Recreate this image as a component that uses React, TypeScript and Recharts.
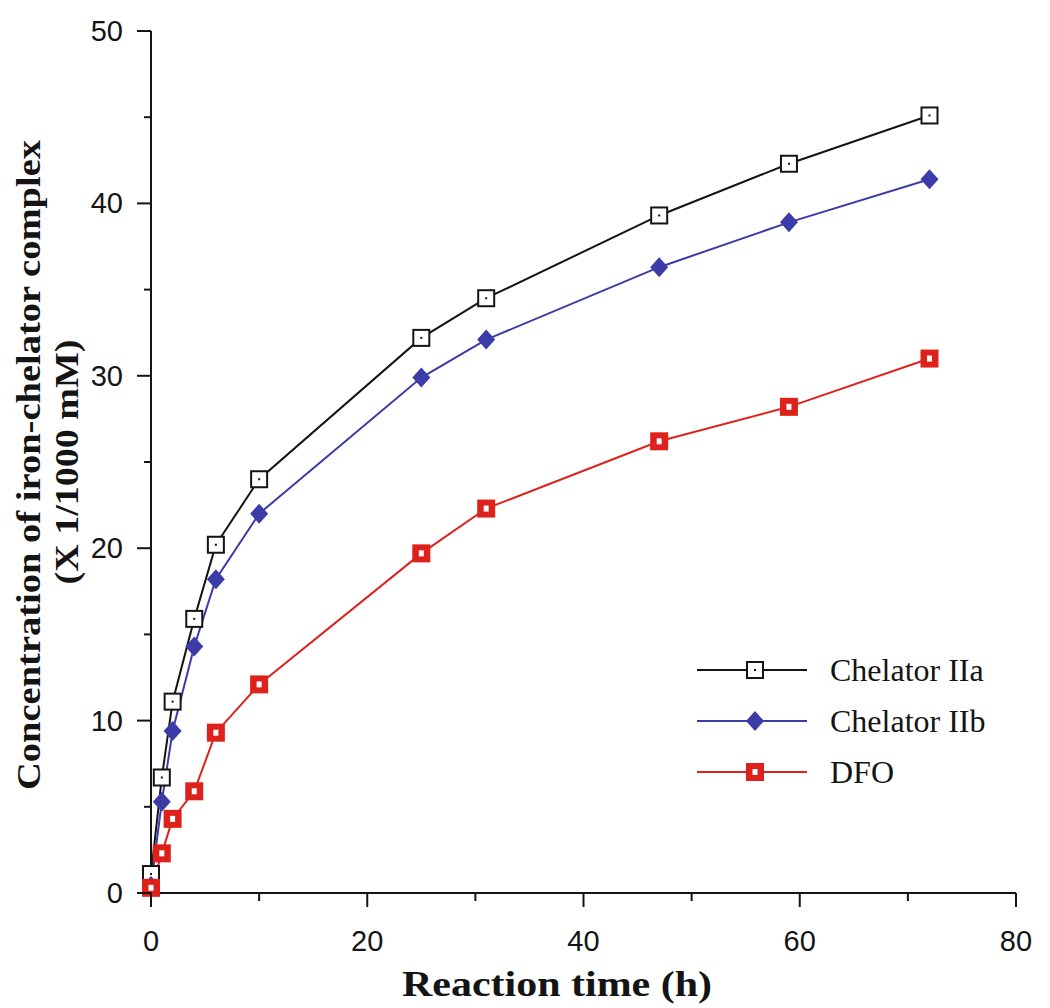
import React from "react";
import { LineChart, Line, XAxis, YAxis, Legend, Label } from "recharts";

const times = [0, 1, 2, 4, 6, 10, 25, 31, 47, 59, 72];
const chelatorIIa = [1.1, 6.7, 11.1, 15.9, 20.2, 24.0, 32.2, 34.5, 39.3, 42.3, 45.1];
const chelatorIIb = [0.4, 5.3, 9.4, 14.3, 18.2, 22.0, 29.9, 32.1, 36.3, 38.9, 41.4];
const dfo = [0.3, 2.3, 4.3, 5.9, 9.3, 12.1, 19.7, 22.3, 26.2, 28.2, 31.0];

const xTicks = [0, 10, 20, 30, 40, 50, 60, 70, 80];
const yTicks = [0, 5, 10, 15, 20, 25, 30, 35, 40, 45, 50];

const data = times.map((t, i) => ({
  t,
  a: chelatorIIa[i],
  b: chelatorIIb[i],
  d: dfo[i],
}));

const BLACK = "#141414";
const BLUE = "#3c3ca8";
const RED = "#dd221c";
const TICK_FONT = "'Liberation Sans', Arial, sans-serif";
const SERIF = "'Liberation Serif', 'Times New Roman', serif";

const OpenSquare = ({ cx, cy }: any) => (
  <g>
    <rect x={cx - 8} y={cy - 8} width={16} height={16} fill="#fff" stroke={BLACK} strokeWidth={2} />
    <rect x={cx - 1} y={cy - 1} width={2} height={2} fill={BLACK} />
  </g>
);

const Diamond = ({ cx, cy }: any) => (
  <path d={`M${cx},${cy - 10} L${cx + 9},${cy} L${cx},${cy + 10} L${cx - 9},${cy} Z`} fill={BLUE} />
);

const RedSquare = ({ cx, cy }: any) => (
  <g>
    <rect x={cx - 9} y={cy - 9} width={18} height={18} fill={RED} />
    <rect x={cx - 2.5} y={cy - 3} width={5} height={6} fill="#fff" />
  </g>
);

const XTick = ({ x, y, payload }: any) => {
  const major = payload.value % 20 === 0;
  return (
    <g>
      <line x1={x} y1={y} x2={x} y2={y + (major ? 14 : 8)} stroke={BLACK} strokeWidth={2} />
      {major && (
        <text x={x} y={y + 58} textAnchor="middle" fontFamily={TICK_FONT} fontSize={29} fill={BLACK}>
          {payload.value}
        </text>
      )}
    </g>
  );
};

const YTick = ({ x, y, payload }: any) => {
  const major = payload.value % 10 === 0;
  return (
    <g>
      <line x1={x} y1={y} x2={x - (major ? 14 : 7)} y2={y} stroke={BLACK} strokeWidth={2} />
      {major && (
        <text x={x - 28} y={y + 10} textAnchor="end" fontFamily={TICK_FONT} fontSize={29} fill={BLACK}>
          {payload.value}
        </text>
      )}
    </g>
  );
};

const legendItems = [
  { name: "Chelator IIa", color: BLACK, Marker: OpenSquare },
  { name: "Chelator IIb", color: BLUE, Marker: Diamond },
  { name: "DFO", color: RED, Marker: RedSquare },
];

const LegendBox = () => (
  <svg width={330} height={150}>
    {legendItems.map((it, i) => {
      const cy = 25 + i * 51;
      const M = it.Marker;
      return (
        <g key={it.name}>
          <line x1={7} y1={cy} x2={117} y2={cy} stroke={it.color} strokeWidth={2} />
          <M cx={65} cy={cy} />
          <text x={140} y={cy + 11} fontFamily={SERIF} fontSize={32} fill={BLACK}>
            {it.name}
          </text>
        </g>
      );
    })}
  </svg>
);

const YLabel = () => (
  <g>
    <text
      transform="translate(40,465) rotate(-90)"
      textAnchor="middle"
      fontFamily={SERIF}
      fontWeight="bold"
      fontSize={34}
      textLength={650}
      lengthAdjust="spacingAndGlyphs"
      fill={BLACK}
    >
      Concentration of iron-chelator complex
    </text>
    <text
      transform="translate(78,462) rotate(-90)"
      textAnchor="middle"
      fontFamily={SERIF}
      fontWeight="bold"
      fontSize={34}
      textLength={245}
      lengthAdjust="spacingAndGlyphs"
      fill={BLACK}
    >
      (X 1/1000 mM)
    </text>
  </g>
);

const XLabel = () => (
  <text
    x={557}
    y={996}
    textAnchor="middle"
    fontFamily={SERIF}
    fontWeight="bold"
    fontSize={36}
    textLength={310}
    lengthAdjust="spacingAndGlyphs"
    fill={BLACK}
  >
    Reaction time (h)
  </text>
);

export default function App() {
  return (
    <div style={{ position: "absolute", left: 0, top: 0, background: "#fff" }}>
      <LineChart width={1050} height={1008} data={data} margin={{ top: 31, right: 34, left: 0, bottom: 0 }}>
        <XAxis
          dataKey="t"
          type="number"
          domain={[0, 80]}
          ticks={xTicks}
          interval={0}
          height={115}
          tickSize={0}
          tickMargin={0}
          tick={<XTick />}
          stroke={BLACK}
          strokeWidth={2}
        >
          <Label content={<XLabel />} />
        </XAxis>
        <YAxis
          type="number"
          domain={[0, 50]}
          ticks={yTicks}
          interval={0}
          width={151}
          tickSize={0}
          tickMargin={0}
          tick={<YTick />}
          stroke={BLACK}
          strokeWidth={2}
        >
          <Label content={<YLabel />} />
        </YAxis>
        <Legend
          layout="vertical"
          align="center"
          verticalAlign="middle"
          content={<LegendBox />}
          wrapperStyle={{ left: 690, top: 645, width: 330, height: 150 }}
        />
        <Line type="linear" dataKey="a" name="Chelator IIa" stroke={BLACK} strokeWidth={2} dot={<OpenSquare />} isAnimationActive={false} />
        <Line type="linear" dataKey="b" name="Chelator IIb" stroke={BLUE} strokeWidth={2} dot={<Diamond />} isAnimationActive={false} />
        <Line type="linear" dataKey="d" name="DFO" stroke={RED} strokeWidth={2} dot={<RedSquare />} isAnimationActive={false} />
      </LineChart>
    </div>
  );
}
